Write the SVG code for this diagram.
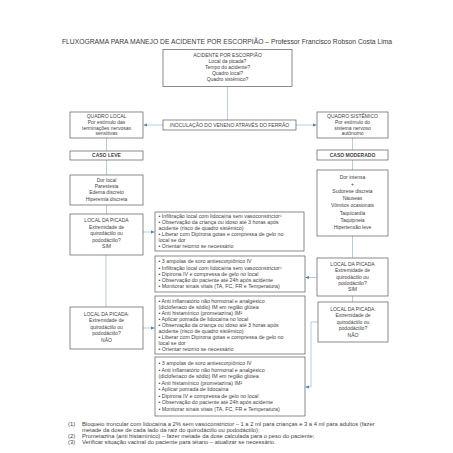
<svg xmlns="http://www.w3.org/2000/svg" width="453" height="453" viewBox="0 0 453 453">
<style>
.bg{fill:#ffffff}
.box{fill:#ffffff;stroke:#5a5a5a;stroke-width:0.7}
text{font-family:"Liberation Sans",Arial,sans-serif;font-size:5px;fill:#3f3f3f}
.c{text-anchor:middle}
.b{font-weight:bold}
.l{font-size:5.3px}
.title{font-size:6.8px;fill:#3a3a3a}
.fn{font-size:5.8px}
.conn{stroke:#9dc3e6;stroke-width:0.8;fill:none}
</style>
<defs>
<marker id="arr" markerUnits="userSpaceOnUse" markerWidth="4" markerHeight="4" refX="3.6" refY="2" orient="auto">
<path d="M0,0.4 L3.6,2 L0,3.6 z" fill="#4a7ebb"/>
</marker>
</defs>
<rect class="bg" x="0" y="0" width="453" height="453"/>
<text class="title c" x="227" y="43.5" textLength="330" lengthAdjust="spacingAndGlyphs">FLUXOGRAMA PARA MANEJO DE ACIDENTE POR ESCORPIÃO – Professor Francisco Robson Costa Lima</text>

<g id="connectors">
<line class="conn" x1="227.5" y1="86.5" x2="227.5" y2="120"/>
<line class="conn" x1="163" y1="125" x2="143.6" y2="125" marker-end="url(#arr)"/>
<line class="conn" x1="296" y1="125" x2="316.6" y2="125" marker-end="url(#arr)"/>
<line class="conn" x1="106.5" y1="138" x2="106.5" y2="151"/>
<line class="conn" x1="106.5" y1="160" x2="106.5" y2="175"/>
<line class="conn" x1="106.5" y1="205" x2="106.5" y2="214"/>
<line class="conn" x1="352.5" y1="138" x2="352.5" y2="150"/>
<line class="conn" x1="352.5" y1="160" x2="352.5" y2="170"/>
<line class="conn" x1="352.5" y1="236" x2="352.5" y2="258"/>
<line class="conn" x1="143" y1="232" x2="154.6" y2="232" marker-end="url(#arr)"/>
<line class="conn" x1="106" y1="255" x2="106" y2="307"/>
<line class="conn" x1="317" y1="277.5" x2="305.4" y2="277.5" marker-end="url(#arr)"/>
<line class="conn" x1="352.5" y1="296" x2="352.5" y2="302"/>
<line class="conn" x1="143" y1="328" x2="154.6" y2="328" marker-end="url(#arr)"/>
<polyline class="conn" points="318,322 311,322 311,387 305.4,387" marker-end="url(#arr)"/>
</g>

<g id="acidente">
<rect class="box" x="163" y="49.5" width="129" height="37"/>
<text class="c" x="227.5" y="56.5">ACIDENTE POR ESCORPIÃO</text>
<text class="c" x="227.5" y="62.7">Local da picada?</text>
<text class="c" x="227.5" y="68.9">Tempo do acidente?</text>
<text class="c" x="227.5" y="75.1">Quadro local?</text>
<text class="c" x="227.5" y="81.3">Quadro sistêmico?</text>
</g>

<g id="inoculacao">
<rect class="box" x="163" y="120" width="133" height="10"/>
<text class="c" x="229.5" y="126.8">INOCULAÇÃO DO VENENO ATRAVÉS DO FERRÃO</text>
</g>

<g id="quadro-local">
<rect class="box" x="70" y="112" width="73" height="26"/>
<text class="c" x="106.5" y="118">QUADRO LOCAL</text>
<text class="c" x="106.5" y="123.8">Por estímulo das</text>
<text class="c" x="106.5" y="129.6">terminações nervosas</text>
<text class="c" x="106.5" y="135.4">sensitivas</text>
</g>

<g id="quadro-sistemico">
<rect class="box" x="317" y="112" width="71" height="26"/>
<text class="c" x="352.5" y="118">QUADRO SISTÊMICO</text>
<text class="c" x="352.5" y="123.8">Por estímulo do</text>
<text class="c" x="352.5" y="129.6">sistema nervoso</text>
<text class="c" x="352.5" y="135.4">autônomo</text>
</g>

<g id="caso-leve">
<rect class="box" x="70" y="151" width="73" height="9"/>
<text class="c b" x="106.5" y="157.3">CASO LEVE</text>
</g>

<g id="caso-moderado">
<rect class="box" x="317" y="150" width="71" height="10"/>
<text class="c b" x="352.5" y="156.8">CASO MODERADO</text>
</g>

<g id="dor-local">
<rect class="box" x="70" y="175" width="73" height="30"/>
<text class="c" x="106.5" y="182">Dor local</text>
<text class="c" x="106.5" y="188.2">Parestesia</text>
<text class="c" x="106.5" y="194.4">Edema discreto</text>
<text class="c" x="106.5" y="200.6">Hiperemia discreta</text>
</g>

<g id="dor-intensa">
<rect class="box" x="317" y="170" width="71" height="66"/>
<text class="c" x="352.5" y="178.6">Dor intensa</text>
<text class="c" x="352.5" y="185.8">+</text>
<text class="c" x="352.5" y="193">Sudorese discreta</text>
<text class="c" x="352.5" y="200.2">Náuseas</text>
<text class="c" x="352.5" y="207.4">Vômitos ocasionais</text>
<text class="c" x="352.5" y="214.6">Taquicardia</text>
<text class="c" x="352.5" y="221.8">Taquipneia</text>
<text class="c" x="352.5" y="229">Hipertensão leve</text>
</g>

<g id="local-sim-esq">
<rect class="box" x="70" y="214" width="73" height="41"/>
<text class="c" x="106.5" y="222">LOCAL DA PICADA</text>
<text class="c" x="106.5" y="228.6">Extremidade de</text>
<text class="c" x="106.5" y="235.2">quirodáctilo ou</text>
<text class="c" x="106.5" y="241.8">pododáctilo?</text>
<text class="c" x="106.5" y="248.4">SIM</text>
</g>

<g id="conduta-leve-sim">
<rect class="box" x="155" y="212" width="149" height="39"/>
<text class="l" x="158.5" y="218.3">• Infiltração local com lidocaína sem vasoconstrictor¹</text>
<text class="l" x="158.5" y="224.3">• Observação da criança ou idoso até 3 horas após</text>
<text class="l" x="158.5" y="230.3">acidente (risco de quadro sistêmico)</text>
<text class="l" x="158.5" y="236.3">• Liberar com Dipirona gotas e compressa de gelo no</text>
<text class="l" x="158.5" y="242.3">local se dor</text>
<text class="l" x="158.5" y="248.3">• Orientar retorno se necessário</text>
</g>

<g id="conduta-moderado-sim">
<rect class="box" x="155" y="256" width="150" height="36"/>
<text class="l" x="158.5" y="263.4">• 3 ampolas de soro antiescorpiônico IV</text>
<text class="l" x="158.5" y="269.6">• Infiltração local com lidocaína sem vasoconstrictor¹</text>
<text class="l" x="158.5" y="275.8">• Dipirona IV e compressa de gelo no local</text>
<text class="l" x="158.5" y="282">• Observação do paciente até 24h após acidente</text>
<text class="l" x="158.5" y="288.2">• Monitorar sinais vitais (TA, FC, FR e Temperatura)</text>
</g>

<g id="local-sim-dir">
<rect class="box" x="317" y="258" width="71" height="38"/>
<text class="c" x="352.5" y="265.8">LOCAL DA PICADA</text>
<text class="c" x="352.5" y="272.2">Extremidade de</text>
<text class="c" x="352.5" y="278.6">quirodáctilo ou</text>
<text class="c" x="352.5" y="285">pododáctilo?</text>
<text class="c" x="352.5" y="291.4">SIM</text>
</g>

<g id="local-nao-dir">
<rect class="box" x="318" y="302" width="70" height="40"/>
<text class="c" x="353" y="310.6">LOCAL DA PICADA:</text>
<text class="c" x="353" y="317.2">Extremidade de</text>
<text class="c" x="353" y="323.8">quirodáctilo ou</text>
<text class="c" x="353" y="330.4">pododáctilo?</text>
<text class="c" x="353" y="337">NÃO</text>
</g>

<g id="conduta-leve-nao">
<rect class="box" x="155" y="296" width="150" height="58"/>
<text class="l" x="158.5" y="302.8">• Anti inflamatório não hormonal e analgésico</text>
<text class="l" x="158.5" y="308.8">(diclofenaco de sódio) IM em região glútea</text>
<text class="l" x="158.5" y="314.8">• Anti histamínico (prometazina) IM²</text>
<text class="l" x="158.5" y="320.8">• Aplicar pomada de lidocaína no local</text>
<text class="l" x="158.5" y="326.8">• Observação da criança ou idoso até 3 horas após</text>
<text class="l" x="158.5" y="332.8">acidente (risco de quadro sistêmico)</text>
<text class="l" x="158.5" y="338.8">• Liberar com Dipirona gotas e compressa de gelo no</text>
<text class="l" x="158.5" y="344.8">local se dor</text>
<text class="l" x="158.5" y="350.8">• Orientar retorno se necessário</text>
</g>

<g id="local-nao-esq">
<rect class="box" x="70" y="307" width="73" height="42"/>
<text class="c" x="106.5" y="315.6">LOCAL DA PICADA:</text>
<text class="c" x="106.5" y="322.2">Extremidade de</text>
<text class="c" x="106.5" y="328.8">quirodáctilo ou</text>
<text class="c" x="106.5" y="335.4">pododáctilo?</text>
<text class="c" x="106.5" y="342">NÃO</text>
</g>

<g id="conduta-moderado-nao">
<rect class="box" x="155" y="357" width="150" height="59"/>
<text class="l" x="158.5" y="365.2">• 3 ampolas de soro antiescorpiônico IV</text>
<text class="l" x="158.5" y="371.7">• Anti inflamatório não hormonal e analgésico</text>
<text class="l" x="158.5" y="378.2">(diclofenaco de sódio) IM em região glútea</text>
<text class="l" x="158.5" y="384.7">• Anti histamínico (prometazina) IM²</text>
<text class="l" x="158.5" y="391.2">• Aplicar pomada de lidocaína</text>
<text class="l" x="158.5" y="397.7">• Dipirona IV e compressa de gelo no local</text>
<text class="l" x="158.5" y="404.2">• Observação do paciente até 24h após acidente</text>
<text class="l" x="158.5" y="410.7">• Monitorar sinais vitais (TA, FC, FR e Temperatura)</text>
</g>

<g id="notas">
<text class="fn" x="68" y="425.5">(1)</text>
<text class="fn" x="82" y="425.5">Bloqueio troncular com lidocaína a 2% sem vasoconstrictor – 1 a 2 ml para crianças e 3 a 4 ml para adultos (fazer</text>
<text class="fn" x="82" y="431.5">metade da dose de cada lado da raiz do quirodáctilo ou pododáctilo);</text>
<text class="fn" x="68" y="437.5">(2)</text>
<text class="fn" x="82" y="437.5">Prometazina (anti histamínico) – fazer metade da dose calculada para o peso do paciente;</text>
<text class="fn" x="68" y="443.5">(3)</text>
<text class="fn" x="82" y="443.5">Verificar situação vacinal do paciente para tétano – atualizar se necessário.</text>
</g>
</svg>
